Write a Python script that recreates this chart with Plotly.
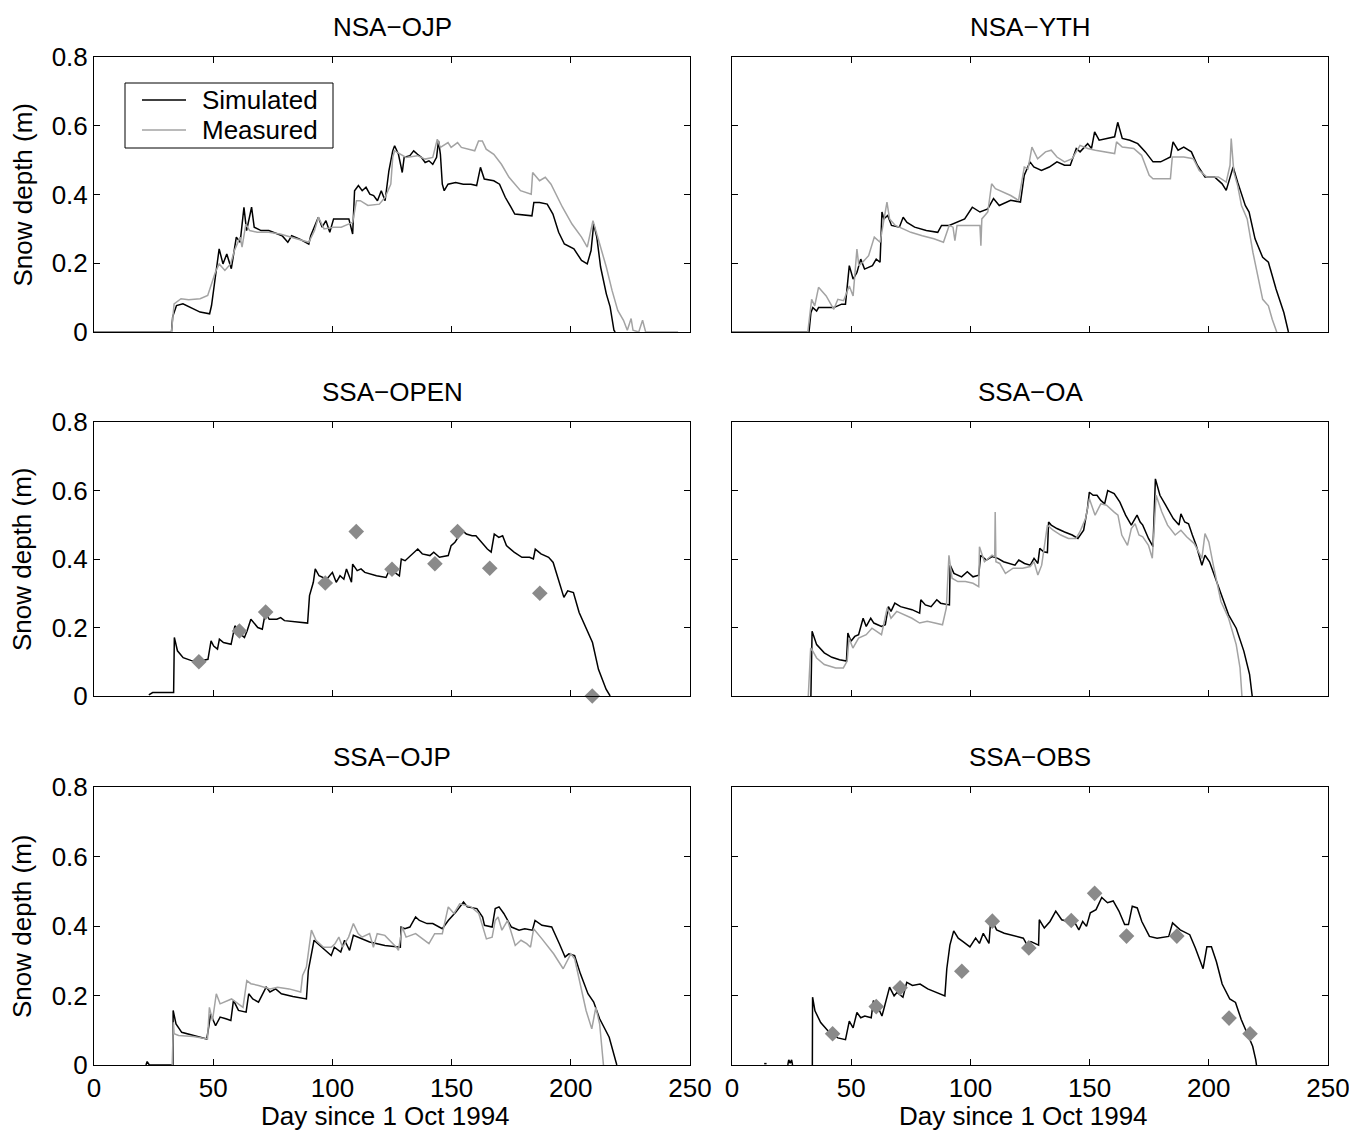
import plotly.graph_objects as go

# ---------------------------------------------------------------- data
# Day since 1 Oct 1994 and snow depth (m) for each BOREAS site.

NSA_OJP_SIM_DAY = [0, 32.5, 33.0, 34.6, 37.3, 41.3, 44.5, 48.5, 49.3, 50.9, 52.5, 54.1, 55.7, 57.6, 59.7,
                   61.3, 62.9, 64.0, 66.1, 67.2, 70.1, 73.3, 76.5, 78.9, 81.3, 82.9, 86.1, 90.1, 90.9,
                   94.1, 95.7, 97.3, 98.9, 100.5, 103.7, 106.9, 108.5, 109.3, 110.9, 112.5, 114.1, 115.7,
                   117.3, 118.9, 120.5, 122.1, 123.7, 125.3, 126.1, 127.7, 129.3, 130.1, 132.5, 134.1,
                   135.7, 137.3, 138.9, 140.5, 142.1, 143.7, 144.5, 145.3, 146.1, 146.9, 148.5, 151.7,
                   154.9, 158.1, 160.5, 162.1, 163.7, 167.7, 170.1, 172.5, 174.9, 176.5, 183.7, 184.5,
                   186.9, 190.1, 192.5, 194.9, 197.3, 201.3, 204.5, 206.9, 208.5, 209.6, 210.9, 212.5,
                   214.9, 216.5, 218.1, 218.6]
NSA_OJP_SIM = [0, 0, 0.044, 0.077, 0.082, 0.068, 0.058, 0.053, 0.077, 0.160, 0.242, 0.198, 0.227, 0.184,
               0.276, 0.261, 0.363, 0.295, 0.363, 0.305, 0.295, 0.295, 0.287, 0.280, 0.261, 0.280, 0.271,
               0.256, 0.280, 0.334, 0.305, 0.324, 0.290, 0.329, 0.329, 0.329, 0.285, 0.411, 0.426, 0.411,
               0.421, 0.401, 0.397, 0.382, 0.411, 0.382, 0.469, 0.527, 0.542, 0.517, 0.464, 0.508, 0.513,
               0.527, 0.517, 0.508, 0.493, 0.498, 0.488, 0.508, 0.556, 0.517, 0.430, 0.411, 0.430, 0.435,
               0.430, 0.430, 0.426, 0.479, 0.445, 0.440, 0.430, 0.392, 0.363, 0.343, 0.338, 0.377, 0.377,
               0.372, 0.343, 0.290, 0.256, 0.242, 0.208, 0.198, 0.237, 0.314, 0.276, 0.189, 0.111, 0.073,
               0.005, 0]
NSA_OJP_MEAS_DAY = [0, 32.5, 33.6, 36.5, 39.7, 44.5, 47.7, 49.3, 50.9, 52.5, 54.9, 57.3, 58.9, 61.3,
                    62.1, 63.7, 65.3, 68.5, 73.3, 78.1, 82.9, 87.7, 90.1, 92.5, 94.1, 96.5, 100.5, 103.7,
                    108.5, 110.1, 111.7, 114.9, 119.7, 122.1, 124.5, 125.3, 126.1, 130.9, 135.7, 138.9,
                    142.1, 144.0, 145.3, 148.5, 149.8, 152.5, 154.1, 159.7, 161.3, 162.9, 164.5, 167.7,
                    170.9, 174.1, 178.9, 183.4, 184.0, 186.9, 189.3, 191.7, 196.5, 200.5, 204.5, 206.9,
                    209.3, 211.7, 214.9, 217.3, 219.7, 222.1, 223.7, 225.3, 226.1, 228.5, 230.1, 231.4, 245]
NSA_OJP_MEAS = [0, 0, 0.082, 0.097, 0.094, 0.097, 0.106, 0.140, 0.174, 0.198, 0.179, 0.198, 0.237,
                0.276, 0.247, 0.314, 0.295, 0.290, 0.290, 0.285, 0.276, 0.266, 0.261, 0.295, 0.334,
                0.300, 0.305, 0.305, 0.319, 0.382, 0.382, 0.368, 0.372, 0.392, 0.430, 0.508, 0.527,
                0.508, 0.513, 0.503, 0.508, 0.561, 0.537, 0.551, 0.537, 0.551, 0.537, 0.527, 0.556,
                0.556, 0.532, 0.517, 0.488, 0.450, 0.411, 0.401, 0.464, 0.440, 0.450, 0.430, 0.363,
                0.314, 0.276, 0.247, 0.324, 0.266, 0.189, 0.121, 0.063, 0.034, 0.005, 0.039, 0.005,
                0, 0.034, 0, 0]

NSA_YTH_SIM_DAY = [0, 31.3, 32.3, 33.1, 33.9, 35.5, 36.3, 42.7, 46.0, 47.6, 48.4, 49.2, 50.8, 52.4, 54.0,
                   55.6, 58.9, 60.5, 62.1, 62.9, 63.7, 65.3, 66.9, 70.2, 71.8, 73.4, 76.6, 81.5, 86.3,
                   87.9, 91.1, 94.4, 97.6, 100.8, 104.0, 107.3, 109.7, 112.1, 116.9, 121.0, 122.6, 125.0,
                   126.6, 129.8, 133.1, 136.3, 139.5, 141.9, 144.4, 146.0, 149.2, 150.8, 152.1, 154.0,
                   157.3, 160.5, 161.8, 163.7, 166.9, 170.2, 173.4, 176.6, 179.8, 183.9, 185.0, 187.1,
                   189.5, 192.7, 195.2, 198.4, 202.4, 205.6, 207.3, 208.9, 210.2, 212.1, 215.3, 216.9,
                   219.4, 222.6, 225.0, 228.2, 231.5, 233.4]
NSA_YTH_SIM = [0, 0, 0, 0.056, 0.071, 0.061, 0.071, 0.071, 0.081, 0.081, 0.134, 0.193, 0.154, 0.173,
               0.212, 0.183, 0.193, 0.212, 0.203, 0.349, 0.329, 0.339, 0.310, 0.305, 0.334, 0.319, 0.305,
               0.295, 0.290, 0.310, 0.310, 0.319, 0.329, 0.363, 0.349, 0.358, 0.388, 0.368, 0.383, 0.378,
               0.456, 0.495, 0.480, 0.470, 0.480, 0.495, 0.485, 0.485, 0.534, 0.524, 0.548, 0.534, 0.582,
               0.558, 0.563, 0.568, 0.610, 0.563, 0.558, 0.548, 0.524, 0.495, 0.495, 0.509, 0.553, 0.529,
               0.538, 0.524, 0.485, 0.451, 0.451, 0.431, 0.412, 0.446, 0.480, 0.436, 0.368, 0.349, 0.271,
               0.217, 0.203, 0.125, 0.056, 0]
NSA_YTH_MEAS_DAY = [0, 31.8, 33.4, 34.7, 36.3, 39.5, 42.7, 44.4, 46.8, 49.2, 50.8, 52.4, 53.2, 54.8,
                    57.3, 59.7, 62.1, 63.7, 65.0, 66.1, 68.5, 71.8, 75.0, 79.8, 84.7, 88.7, 91.1, 92.7,
                    93.5, 94.4, 97.6, 102.4, 104.0, 104.4, 104.8, 107.3, 108.9, 110.5, 113.7, 116.9,
                    120.2, 122.6, 124.2, 125.8, 128.2, 131.5, 133.9, 136.3, 139.5, 142.7, 146.0, 149.2,
                    152.4, 157.3, 160.5, 161.3, 163.7, 168.5, 171.8, 175.0, 176.6, 183.9, 184.7, 189.5,
                    193.5, 196.0, 199.2, 204.0, 207.3, 208.9, 209.4, 210.5, 212.1, 213.7, 216.1, 218.5,
                    221.0, 222.6, 225.0, 226.6, 228.5]
NSA_YTH_MEAS = [0, 0, 0.095, 0.076, 0.130, 0.105, 0.066, 0.095, 0.091, 0.134, 0.105, 0.241, 0.193,
                0.203, 0.222, 0.276, 0.261, 0.329, 0.378, 0.329, 0.310, 0.300, 0.290, 0.280, 0.271,
                0.261, 0.310, 0.305, 0.266, 0.310, 0.310, 0.310, 0.310, 0.251, 0.329, 0.349, 0.431,
                0.417, 0.407, 0.397, 0.383, 0.480, 0.475, 0.538, 0.504, 0.524, 0.529, 0.509, 0.495,
                0.504, 0.543, 0.534, 0.529, 0.524, 0.519, 0.553, 0.538, 0.534, 0.514, 0.456, 0.446,
                0.446, 0.509, 0.509, 0.504, 0.470, 0.451, 0.451, 0.436, 0.485, 0.563, 0.465, 0.426,
                0.368, 0.329, 0.232, 0.154, 0.095, 0.076, 0.037, 0]

SSA_OPEN_SIM_DAY = [23.0, 24.6, 33.4, 33.7, 35.0, 37.4, 40.6, 44.6, 47.8, 49.1, 50.2, 51.8, 52.6, 54.3,
                    57.5, 59.1, 61.5, 63.1, 64.2, 65.8, 68.7, 70.6, 71.9, 73.5, 76.7, 78.3, 79.9, 84.8,
                    89.6, 90.4, 92.0, 92.8, 94.4, 97.6, 100.0, 101.6, 103.2, 104.8, 105.9, 108.0, 108.5,
                    110.4, 112.0, 113.6, 118.5, 122.5, 124.1, 128.1, 128.9, 130.5, 132.1, 133.7, 135.8,
                    137.7, 140.9, 142.5, 144.9, 148.6, 149.8, 151.4, 153.0, 154.6, 156.2, 158.6, 160.2,
                    161.8, 165.0, 166.6, 167.9, 169.8, 171.4, 173.0, 176.2, 179.5, 182.7, 184.3, 185.1,
                    187.5, 190.7, 192.6, 194.7, 197.1, 198.7, 201.1, 203.5, 206.7, 209.1, 211.6, 214.8,
                    216.5]
SSA_OPEN_SIM = [0.003, 0.010, 0.010, 0.171, 0.132, 0.112, 0.104, 0.102, 0.107, 0.161, 0.146, 0.137,
                0.166, 0.156, 0.151, 0.205, 0.180, 0.171, 0.190, 0.224, 0.200, 0.195, 0.244, 0.224,
                0.224, 0.229, 0.220, 0.217, 0.213, 0.293, 0.332, 0.371, 0.351, 0.341, 0.361, 0.332,
                0.351, 0.341, 0.371, 0.332, 0.385, 0.366, 0.371, 0.361, 0.351, 0.346, 0.371, 0.351,
                0.400, 0.395, 0.405, 0.415, 0.429, 0.415, 0.410, 0.420, 0.405, 0.410, 0.439, 0.449,
                0.468, 0.483, 0.473, 0.468, 0.468, 0.454, 0.429, 0.420, 0.473, 0.463, 0.468, 0.439,
                0.420, 0.405, 0.405, 0.400, 0.429, 0.415, 0.405, 0.390, 0.341, 0.288, 0.307, 0.302,
                0.244, 0.195, 0.156, 0.078, 0.020, 0]
SSA_OPEN_OBS_DAY = [44, 61, 72, 97, 110, 125, 143, 152.5, 166, 187, 209]
SSA_OPEN_OBS = [0.10, 0.19, 0.245, 0.33, 0.48, 0.37, 0.386, 0.48, 0.373, 0.30, 0.0]

SSA_OA_SIM_DAY = [33.1, 33.6, 35.5, 38.7, 41.9, 45.1, 48.0, 48.6, 49.9, 51.5, 53.1, 53.9, 55.0, 56.3,
                  58.2, 59.5, 62.7, 64.3, 65.6, 66.7, 68.3, 70.7, 75.5, 78.7, 79.2, 81.1, 83.5, 85.9,
                  87.5, 91.2, 91.5, 93.1, 96.3, 98.7, 101.1, 103.5, 104.3, 106.7, 109.1, 111.5, 113.9,
                  118.7, 120.3, 122.7, 125.1, 126.7, 128.3, 129.1, 130.7, 132.3, 132.8, 133.9, 136.3,
                  139.5, 142.7, 145.1, 147.5, 149.1, 149.9, 151.5, 153.1, 154.7, 156.3, 157.6, 160.3,
                  162.7, 165.1, 167.5, 169.1, 169.9, 171.2, 172.3, 174.7, 176.6, 177.6, 179.5, 181.9,
                  185.1, 187.5, 188.3, 189.9, 191.5, 193.1, 194.7, 197.1, 198.4, 200.3, 202.7, 205.1,
                  208.3, 211.5, 214.7, 217.1, 218.2]
SSA_OA_SIM = [0, 0.189, 0.150, 0.126, 0.113, 0.106, 0.102, 0.184, 0.160, 0.174, 0.179, 0.198, 0.227,
              0.203, 0.227, 0.213, 0.203, 0.208, 0.261, 0.247, 0.271, 0.261, 0.252, 0.242, 0.281, 0.266,
              0.261, 0.281, 0.271, 0.266, 0.382, 0.358, 0.348, 0.363, 0.348, 0.353, 0.411, 0.397, 0.407,
              0.402, 0.392, 0.382, 0.397, 0.387, 0.382, 0.402, 0.387, 0.431, 0.421, 0.419, 0.508, 0.499,
              0.489, 0.479, 0.470, 0.460, 0.484, 0.547, 0.595, 0.586, 0.586, 0.571, 0.561, 0.600, 0.591,
              0.566, 0.528, 0.499, 0.518, 0.528, 0.508, 0.499, 0.460, 0.436, 0.634, 0.586, 0.557, 0.518,
              0.499, 0.532, 0.508, 0.503, 0.470, 0.440, 0.382, 0.411, 0.392, 0.344, 0.295, 0.237, 0.198,
              0.131, 0.063, 0]
SSA_OA_MEAS_DAY = [32.0, 33.0, 33.9, 35.5, 38.7, 43.5, 46.7, 48.3, 49.1, 50.7, 53.1, 56.3, 58.7, 62.7,
                   65.1, 66.7, 69.1, 72.3, 75.5, 78.7, 81.9, 85.1, 88.3, 89.9, 91.0, 92.3, 94.7, 97.9,
                   101.1, 103.5, 103.8, 105.9, 109.1, 110.2, 110.4, 110.7, 112.3, 114.7, 117.9, 121.9,
                   125.1, 126.7, 128.3, 129.9, 132.3, 134.7, 137.9, 141.1, 144.3, 145.9, 148.3, 149.9,
                   152.3, 154.7, 157.1, 160.3, 161.9, 163.5, 165.9, 167.5, 169.1, 170.7, 172.3, 174.7,
                   176.3, 177.9, 180.3, 182.7, 185.9, 188.3, 190.7, 193.9, 197.1, 198.4, 200.0, 201.9,
                   205.1, 208.3, 211.5, 213.1, 213.9]
SSA_OA_MEAS = [0, 0.140, 0.131, 0.111, 0.092, 0.082, 0.082, 0.102, 0.169, 0.140, 0.169, 0.179, 0.198,
               0.179, 0.257, 0.227, 0.247, 0.237, 0.227, 0.213, 0.218, 0.213, 0.208, 0.257, 0.411, 0.344,
               0.334, 0.334, 0.329, 0.319, 0.436, 0.392, 0.411, 0.407, 0.537, 0.392, 0.387, 0.358, 0.373,
               0.373, 0.378, 0.392, 0.353, 0.382, 0.499, 0.484, 0.470, 0.460, 0.460, 0.479, 0.518, 0.576,
               0.528, 0.561, 0.557, 0.537, 0.528, 0.470, 0.440, 0.489, 0.503, 0.470, 0.465, 0.440, 0.402,
               0.586, 0.537, 0.499, 0.470, 0.484, 0.465, 0.445, 0.402, 0.474, 0.450, 0.382, 0.276, 0.227,
               0.150, 0.082, 0]

SSA_OJP_SIM_DAY = [21.8, 22.3, 23.2, 33.1, 33.2, 34.4, 36.8, 41.6, 47.3, 48.1, 48.9, 51.0, 52.9, 55.3,
                   57.4, 58.5, 60.6, 63.8, 64.9, 66.6, 69.0, 72.2, 73.8, 76.2, 78.6, 83.4, 89.1, 89.9,
                   91.2, 92.3, 93.9, 96.3, 99.5, 100.8, 103.5, 105.1, 107.2, 108.8, 110.8, 115.6, 122.0,
                   128.5, 128.8, 130.4, 132.5, 134.9, 136.5, 139.7, 142.1, 144.5, 146.1, 148.6, 151.8,
                   155.0, 156.6, 160.6, 163.0, 163.8, 167.0, 168.3, 169.9, 171.9, 175.1, 178.3, 180.7,
                   183.9, 185.0, 187.9, 192.0, 195.2, 197.6, 199.2, 201.6, 204.0, 207.2, 209.6, 212.1,
                   216.1, 219.3]
SSA_OJP_SIM = [0, 0.010, 0, 0, 0.157, 0.118, 0.094, 0.085, 0.075, 0.109, 0.147, 0.113, 0.138, 0.133,
               0.128, 0.186, 0.157, 0.152, 0.205, 0.190, 0.181, 0.224, 0.210, 0.219, 0.205, 0.197, 0.190,
               0.272, 0.320, 0.359, 0.349, 0.335, 0.315, 0.339, 0.325, 0.359, 0.330, 0.373, 0.368, 0.354,
               0.344, 0.339, 0.397, 0.392, 0.397, 0.426, 0.416, 0.407, 0.407, 0.397, 0.392, 0.416, 0.440,
               0.469, 0.455, 0.450, 0.426, 0.402, 0.397, 0.450, 0.455, 0.436, 0.397, 0.388, 0.392, 0.388,
               0.416, 0.402, 0.397, 0.349, 0.311, 0.320, 0.315, 0.263, 0.205, 0.181, 0.133, 0.080, 0]
SSA_OJP_MEAS_DAY = [32.8, 33.3, 33.6, 35.5, 41.6, 47.6, 48.4, 49.7, 51.3, 52.9, 57.7, 59.6, 62.5, 64.1,
                    65.8, 69.0, 73.8, 77.0, 81.8, 86.7, 87.5, 89.1, 91.2, 93.1, 96.3, 99.5, 101.1, 102.7,
                    104.3, 106.8, 108.8, 110.8, 112.4, 115.6, 117.2, 118.8, 122.0, 126.8, 127.7, 129.3,
                    130.9, 134.9, 138.9, 140.5, 142.9, 146.1, 148.6, 151.0, 153.4, 155.8, 158.2, 161.4,
                    164.6, 167.0, 168.3, 169.5, 171.1, 173.5, 176.7, 179.1, 181.5, 183.1, 184.4, 187.9,
                    192.8, 196.8, 200.0, 201.6, 204.0, 206.4, 208.8, 210.5, 212.1, 213.7]
SSA_OJP_MEAS = [0, 0.123, 0.090, 0.085, 0.082, 0.075, 0.166, 0.128, 0.205, 0.176, 0.190, 0.181, 0.166,
                0.243, 0.234, 0.229, 0.219, 0.224, 0.219, 0.210, 0.258, 0.282, 0.388, 0.359, 0.339,
                0.339, 0.349, 0.368, 0.339, 0.368, 0.407, 0.378, 0.368, 0.378, 0.339, 0.378, 0.373,
                0.339, 0.330, 0.397, 0.368, 0.378, 0.359, 0.349, 0.378, 0.378, 0.455, 0.436, 0.464,
                0.460, 0.455, 0.436, 0.363, 0.368, 0.416, 0.426, 0.388, 0.416, 0.344, 0.359, 0.349,
                0.339, 0.392, 0.363, 0.320, 0.277, 0.320, 0.306, 0.234, 0.157, 0.104, 0.166, 0.118, 0]

SSA_OBS_SIM_DAY = [13.5, 14.5, None, 23.4, 23.8, 24.4, 25.0, 25.4, None,
                   33.7, 33.8, 34.8, 37.2, 40.4, 44.4, 47.6, 49.2, 50.8, 52.4, 54.0, 55.7, 58.4, 59.3,
                   61.3, 62.9, 63.7, 66.1, 68.0, 69.3, 71.7, 73.3, 75.7, 78.9, 82.1, 86.1, 89.3, 90.1,
                   91.4, 93.0, 94.9, 96.9, 99.8, 102.2, 103.8, 105.4, 107.8, 108.6, 111.0, 114.2, 119.0,
                   122.2, 123.8, 125.4, 128.6, 128.9, 131.0, 133.4, 135.8, 138.3, 140.7, 143.1, 145.5,
                   147.1, 148.7, 150.3, 152.7, 155.1, 157.5, 159.9, 162.3, 164.7, 166.3, 167.9, 170.0,
                   171.9, 175.1, 178.3, 183.2, 184.8, 188.0, 192.0, 194.4, 197.6, 199.2, 201.1, 203.2,
                   205.6, 208.8, 211.2, 213.6, 216.8, 218.4, 219.7, 220.0]
SSA_OBS_SIM = [0.004, 0.004, None, 0, 0.015, 0.005, 0.015, 0, None,
               0, 0.195, 0.156, 0.122, 0.097, 0.078, 0.073, 0.126, 0.107, 0.151, 0.136, 0.141, 0.136,
               0.185, 0.165, 0.141, 0.161, 0.224, 0.199, 0.209, 0.195, 0.238, 0.229, 0.233, 0.219, 0.209,
               0.199, 0.277, 0.345, 0.386, 0.365, 0.355, 0.340, 0.365, 0.350, 0.379, 0.350, 0.423, 0.389,
               0.379, 0.370, 0.365, 0.345, 0.355, 0.345, 0.418, 0.394, 0.413, 0.443, 0.418, 0.413, 0.418,
               0.389, 0.413, 0.399, 0.438, 0.447, 0.482, 0.467, 0.472, 0.443, 0.404, 0.404, 0.457, 0.452,
               0.413, 0.370, 0.365, 0.370, 0.409, 0.389, 0.375, 0.336, 0.277, 0.340, 0.340, 0.297, 0.233,
               0.190, 0.180, 0.131, 0.083, 0.054, 0.015, 0]
SSA_OBS_OBS_DAY = [42.2, 60.5, 70.5, 96.4, 109.2, 124.5, 142.3, 152.1, 165.5, 186.6, 208.5, 217.3]
SSA_OBS_OBS = [0.09, 0.168, 0.222, 0.27, 0.414, 0.337, 0.416, 0.494, 0.371, 0.371, 0.135, 0.09]

SITES = ["NSA\u2212OJP", "NSA\u2212YTH", "SSA\u2212OPEN", "SSA\u2212OA", "SSA\u2212OJP", "SSA\u2212OBS"]
SERIES_NAMES = ["Simulated", "Measured"]
X_TICKS = [0, 50, 100, 150, 200, 250]
Y_TICKS = [0, 0.2, 0.4, 0.6, 0.8]
Y_TICK_TEXT = ["0", "0.2", "0.4", "0.6", "0.8"]
X_TITLE = "Day since 1 Oct 1994"
Y_TITLE = "Snow depth (m)"

# ---------------------------------------------------------------- layout
W, H = 1349, 1133
FONT = "Liberation Sans, Arial, Helvetica, sans-serif"
FS = 26
COLS_PX = [(94, 690), (732, 1328)]
ROWS_PX = [(57, 332), (422, 696), (787, 1065)]
SIM_COLOR = "black"
MEAS_COLOR = "#a3a3a3"
OBS_COLOR = "#8a8a8a"
LINE_W = 1.5


def px_x(v):
    return v / W


def px_y(v):
    return 1 - v / H


panels = [
    (NSA_OJP_SIM_DAY, NSA_OJP_SIM, NSA_OJP_MEAS_DAY, NSA_OJP_MEAS, "lines"),
    (NSA_YTH_SIM_DAY, NSA_YTH_SIM, NSA_YTH_MEAS_DAY, NSA_YTH_MEAS, "lines"),
    (SSA_OPEN_SIM_DAY, SSA_OPEN_SIM, SSA_OPEN_OBS_DAY, SSA_OPEN_OBS, "markers"),
    (SSA_OA_SIM_DAY, SSA_OA_SIM, SSA_OA_MEAS_DAY, SSA_OA_MEAS, "lines"),
    (SSA_OJP_SIM_DAY, SSA_OJP_SIM, SSA_OJP_MEAS_DAY, SSA_OJP_MEAS, "lines"),
    (SSA_OBS_SIM_DAY, SSA_OBS_SIM, SSA_OBS_OBS_DAY, SSA_OBS_OBS, "markers"),
]

fig = go.Figure()
annotations = []
shapes = []
text_font = dict(family=FONT, size=FS, color="black")

for i, (sd, sv, md, mv, mode) in enumerate(panels):
    row, col = divmod(i, 2)
    n = "" if i == 0 else str(i + 1)
    xa, ya = "x" + n, "y" + n
    x0, x1 = COLS_PX[col]
    y0, y1 = ROWS_PX[row]

    fig.add_trace(go.Scatter(
        x=sd, y=sv, mode="lines", name=SERIES_NAMES[0], xaxis=xa, yaxis=ya,
        line=dict(color=SIM_COLOR, width=LINE_W), showlegend=False, connectgaps=False))
    if mode == "lines":
        fig.add_trace(go.Scatter(
            x=md, y=mv, mode="lines", name=SERIES_NAMES[1], xaxis=xa, yaxis=ya,
            line=dict(color=MEAS_COLOR, width=LINE_W), showlegend=False))
    else:
        fig.add_trace(go.Scatter(
            x=md, y=mv, mode="markers", name=SERIES_NAMES[1], xaxis=xa, yaxis=ya,
            marker=dict(symbol="diamond", size=12, color=OBS_COLOR, line=dict(width=0)),
            showlegend=False, cliponaxis=False))

    axis_common = dict(showline=True, linecolor="black", linewidth=1, mirror="ticks",
                       ticks="inside", ticklen=6, tickcolor="black", tickwidth=1,
                       showgrid=False, zeroline=False, automargin=False,
                       ticklabeloverflow="allow", tickfont=text_font)
    fig.layout["xaxis" + n] = dict(
        axis_common, domain=[px_x(x0), px_x(x1)], anchor=ya, range=[0, 250],
        tickvals=X_TICKS, ticktext=[str(t) for t in X_TICKS], showticklabels=(row == 2))
    fig.layout["yaxis" + n] = dict(
        axis_common, domain=[px_y(y1), px_y(y0)], anchor=xa, range=[0, 0.8],
        tickvals=Y_TICKS, ticktext=Y_TICK_TEXT, showticklabels=(col == 0))

    # panel title
    annotations.append(dict(
        text=SITES[i], xref="paper", yref="paper", x=px_x((x0 + x1) / 2), y=px_y(y0 - 30),
        xanchor="center", yanchor="middle", showarrow=False, font=text_font))
    if col == 0:
        annotations.append(dict(
            text=Y_TITLE, xref="paper", yref="paper", x=px_x(22), y=px_y((y0 + y1) / 2),
            xanchor="center", yanchor="middle", textangle=-90, showarrow=False, font=text_font))
    if row == 2:
        annotations.append(dict(
            text=X_TITLE, xref="paper", yref="paper", x=px_x((x0 + x1) / 2 - 7), y=px_y(1116),
            xanchor="center", yanchor="middle", showarrow=False, font=text_font))

# legend box in the first panel
LEG_BOX = (125, 83, 333, 148)
LEG_ROWS = [(100, SIM_COLOR), (130, MEAS_COLOR)]
shapes.append(dict(type="rect", xref="paper", yref="paper",
                   x0=px_x(LEG_BOX[0]), x1=px_x(LEG_BOX[2]),
                   y0=px_y(LEG_BOX[3]), y1=px_y(LEG_BOX[1]),
                   line=dict(color="black", width=1), fillcolor="white", layer="above"))
for (yy, colr), name in zip(LEG_ROWS, SERIES_NAMES):
    shapes.append(dict(type="line", xref="paper", yref="paper",
                       x0=px_x(142), x1=px_x(186), y0=px_y(yy), y1=px_y(yy),
                       line=dict(color=colr, width=LINE_W), layer="above"))
    annotations.append(dict(text=name, xref="paper", yref="paper", x=px_x(200), y=px_y(yy),
                            xanchor="left", yanchor="middle", showarrow=False, font=text_font))

fig.update_layout(
    template="none",
    width=W, height=H, margin=dict(l=0, r=0, t=0, b=0, pad=0, autoexpand=False),
    paper_bgcolor="white", plot_bgcolor="white",
    font=text_font, showlegend=False,
    annotations=annotations, shapes=shapes,
)

fig.write_html("out.html")
